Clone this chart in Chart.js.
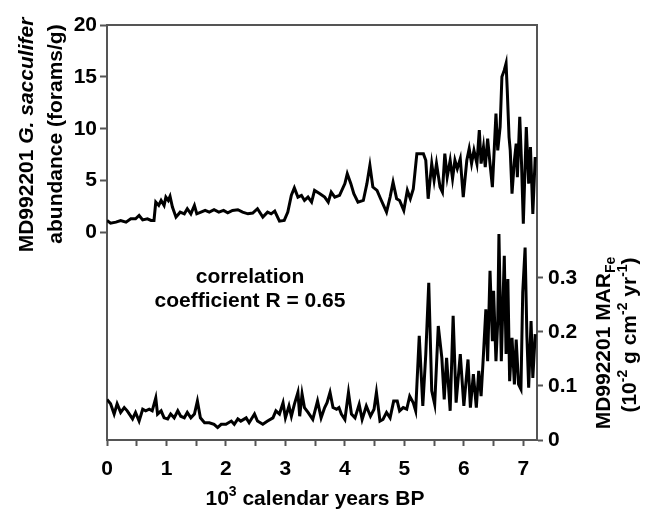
<!DOCTYPE html>
<html>
<head>
<meta charset="utf-8">
<script src="https://cdn.jsdelivr.net/npm/chart.js@4.4.1/dist/chart.umd.min.js"></script>
<style>
  html, body { margin: 0; padding: 0; background: #fff; }
  canvas { display: block; }
</style>
</head>
<body>
<canvas id="chart" width="649" height="511"></canvas>
<script>
// G. sacculifer abundance (forams/g), ka BP
const sacYears = [0.00, 0.06, 0.15, 0.23, 0.32, 0.40, 0.48, 0.54, 0.60, 0.68, 0.74, 0.79, 0.82, 0.87, 0.91, 0.96, 0.99, 1.03, 1.06, 1.10,
  1.16, 1.23, 1.30, 1.35, 1.41, 1.47, 1.51, 1.58, 1.65, 1.72, 1.80, 1.88, 1.96, 2.03, 2.11, 2.20, 2.28, 2.37, 2.45, 2.53,
  2.62, 2.70, 2.76, 2.82, 2.90, 2.98, 3.04, 3.10, 3.15, 3.21, 3.27, 3.32, 3.38, 3.44, 3.49, 3.58, 3.66, 3.72, 3.77, 3.83,
  3.91, 4.00, 4.04, 4.10, 4.15, 4.22, 4.31, 4.37, 4.42, 4.47, 4.54, 4.60, 4.65, 4.70, 4.76, 4.81, 4.87, 4.92, 4.99, 5.05,
  5.10, 5.15, 5.21, 5.26, 5.32, 5.36, 5.40, 5.46, 5.50, 5.54, 5.60, 5.64, 5.68, 5.72, 5.77, 5.81, 5.85, 5.89, 5.94, 5.99,
  6.05, 6.09, 6.13, 6.17, 6.22, 6.26, 6.29, 6.33, 6.36, 6.40, 6.44, 6.48, 6.51, 6.54, 6.57, 6.61, 6.64, 6.68, 6.71, 6.73,
  6.76, 6.78, 6.81, 6.85, 6.88, 6.90, 6.94, 6.97, 7.00, 7.05, 7.09, 7.12, 7.16, 7.20];
const sacValues = [1.16, 0.90, 1.00, 1.16, 1.00, 1.32, 1.32, 1.64, 1.22, 1.32, 1.16, 1.16, 2.93, 2.61, 3.09, 2.61, 3.41, 3.09, 3.48, 2.45,
  1.48, 1.96, 1.80, 2.29, 1.80, 2.61, 1.80, 1.96, 2.13, 1.96, 2.19, 1.96, 2.13, 1.90, 2.13, 2.19, 1.96, 1.80, 1.87, 2.29,
  1.48, 1.96, 1.80, 2.06, 1.09, 1.16, 1.96, 3.60, 4.30, 3.41, 3.58, 3.09, 3.41, 2.93, 4.06, 3.74, 3.41, 2.93, 3.89, 3.41,
  3.58, 4.71, 5.67, 4.71, 3.74, 2.93, 3.09, 4.71, 6.47, 4.38, 4.06, 3.25, 2.61, 1.96, 3.41, 4.86, 3.25, 3.09, 2.13, 4.06,
  3.25, 4.20, 7.60, 7.60, 7.60, 6.96, 3.25, 6.64, 5.02, 6.64, 4.38, 3.89, 7.60, 5.34, 6.96, 5.19, 6.96, 6.15, 7.12, 3.41,
  6.96, 8.08, 6.64, 7.92, 6.64, 9.86, 6.64, 8.24, 6.31, 9.05, 6.64, 4.38, 7.92, 11.47, 7.92, 10.17, 15.0, 15.65, 16.3, 13.7,
  9.20, 7.92, 3.74, 6.96, 8.57, 5.34, 11.14, 6.64, 0.84, 10.17, 4.71, 8.24, 1.80, 7.28];

// MAR Fe (10^-2 g cm^-2 yr^-1), ka BP
const marYears = [0.00, 0.06, 0.12, 0.17, 0.23, 0.29, 0.34, 0.43, 0.48, 0.54, 0.60, 0.65, 0.71, 0.76, 0.82, 0.85, 0.91, 0.96, 1.02, 1.07,
  1.13, 1.19, 1.24, 1.30, 1.35, 1.41, 1.47, 1.52, 1.57, 1.64, 1.72, 1.80, 1.86, 1.92, 2.00, 2.09, 2.14, 2.20, 2.25, 2.34,
  2.39, 2.48, 2.53, 2.62, 2.70, 2.79, 2.84, 2.90, 2.96, 3.00, 3.06, 3.10, 3.15, 3.21, 3.24, 3.28, 3.32, 3.38, 3.46, 3.54,
  3.60, 3.66, 3.70, 3.75, 3.80, 3.86, 3.90, 3.94, 4.00, 4.06, 4.11, 4.17, 4.24, 4.29, 4.36, 4.43, 4.49, 4.53, 4.59, 4.64,
  4.70, 4.76, 4.82, 4.88, 4.92, 4.98, 5.04, 5.09, 5.15, 5.19, 5.25, 5.31, 5.36, 5.41, 5.46, 5.51, 5.57, 5.63, 5.67, 5.71,
  5.77, 5.82, 5.87, 5.94, 6.00, 6.07, 6.11, 6.16, 6.21, 6.25, 6.29, 6.33, 6.37, 6.40, 6.44, 6.48, 6.50, 6.54, 6.57, 6.59,
  6.63, 6.68, 6.71, 6.74, 6.77, 6.81, 6.85, 6.88, 6.92, 6.96, 6.99, 7.03, 7.06, 7.09, 7.13, 7.16, 7.20];
const marValues = [0.075, 0.067, 0.048, 0.067, 0.051, 0.060, 0.054, 0.039, 0.051, 0.035, 0.057, 0.054, 0.057, 0.054, 0.078, 0.048, 0.054, 0.041, 0.039, 0.048,
  0.041, 0.054, 0.044, 0.041, 0.051, 0.041, 0.048, 0.072, 0.041, 0.032, 0.032, 0.029, 0.023, 0.029, 0.029, 0.035, 0.029, 0.039, 0.035, 0.041,
  0.032, 0.048, 0.035, 0.029, 0.035, 0.041, 0.054, 0.048, 0.069, 0.041, 0.063, 0.044, 0.066, 0.088, 0.044, 0.085, 0.060, 0.051, 0.038, 0.072,
  0.041, 0.060, 0.069, 0.088, 0.060, 0.057, 0.060, 0.048, 0.038, 0.088, 0.048, 0.041, 0.066, 0.038, 0.063, 0.044, 0.057, 0.088, 0.035, 0.038,
  0.051, 0.041, 0.072, 0.072, 0.054, 0.060, 0.057, 0.081, 0.069, 0.054, 0.193, 0.063, 0.159, 0.291, 0.091, 0.066, 0.211, 0.152, 0.075, 0.152,
  0.054, 0.230, 0.069, 0.159, 0.063, 0.149, 0.060, 0.122, 0.060, 0.128, 0.081, 0.159, 0.242, 0.146, 0.313, 0.183, 0.276, 0.146, 0.220, 0.381,
  0.146, 0.341, 0.159, 0.298, 0.109, 0.189, 0.103, 0.186, 0.103, 0.094, 0.273, 0.356, 0.193, 0.097, 0.220, 0.115, 0.196];

const xTicks = [0, 0.5, 1, 1.5, 2, 2.5, 3, 3.5, 4, 4.5, 5, 5.5, 6, 6.5, 7];
const sacTicks = [0, 5, 10, 15, 20];
const marTicks = [0, 0.1, 0.2, 0.3];

const FONT = '"Liberation Sans", Arial, Helvetica, sans-serif';
const AXIS = '#555';

const toPoints = (xs, ys) => xs.map((x, i) => ({ x: x, y: ys[i] }));

// draws a row of text pieces (mixed fonts / sub / superscript), centred on (cx, cy)
function drawRuns(ctx, runs, cx, cy, angle) {
  ctx.save();
  ctx.translate(cx, cy);
  ctx.rotate(angle);
  ctx.textAlign = 'left';
  ctx.textBaseline = 'alphabetic';
  ctx.fillStyle = '#000';
  let total = 0;
  runs.forEach(r => { ctx.font = r.font; total += ctx.measureText(r.text).width; });
  let x = -total / 2;
  runs.forEach(r => {
    ctx.font = r.font;
    ctx.fillText(r.text, x, r.dy || 0);
    x += ctx.measureText(r.text).width;
  });
  ctx.restore();
}

const big = 'bold 21px ' + FONT;
const bigIt = 'italic bold 21px ' + FONT;
const small = 'bold 14px ' + FONT;

const labelsPlugin = {
  id: 'labels',
  afterDraw(chart) {
    const ctx = chart.ctx;
    const a = chart.chartArea;
    // top frame line
    ctx.save();
    ctx.strokeStyle = AXIS;
    ctx.lineWidth = 2;
    ctx.beginPath();
    ctx.moveTo(a.left - 1, a.top);
    ctx.lineTo(a.right + 1, a.top);
    ctx.stroke();
    ctx.restore();

    const up = -Math.PI / 2;
    // left axis title
    drawRuns(ctx, [{ text: 'MD992201 ', font: big }, { text: 'G. sacculifer', font: bigIt }], 33, 135, up);
    drawRuns(ctx, [{ text: 'abundance (forams/g)', font: big }], 62, 134, up);
    // right axis title
    drawRuns(ctx, [{ text: 'MD992201 MAR', font: big }, { text: 'Fe', font: small, dy: 5 }], 610, 343, up);
    drawRuns(ctx, [
      { text: '(10', font: big }, { text: '-2', font: small, dy: -9 },
      { text: ' g cm', font: big }, { text: '-2', font: small, dy: -9 },
      { text: ' yr', font: big }, { text: '-1', font: small, dy: -9 },
      { text: ')', font: big }
    ], 636, 335, up);
    // x axis title
    drawRuns(ctx, [{ text: '10', font: big }, { text: '3', font: small, dy: -9 }, { text: ' calendar years BP', font: big }], 315, 505, 0);
    // annotation
    drawRuns(ctx, [{ text: 'correlation', font: big }], 250, 283, 0);
    drawRuns(ctx, [{ text: 'coefficient R = 0.65', font: big }], 250, 307, 0);
  }
};

Chart.defaults.font.family = FONT;
Chart.defaults.color = '#000';

new Chart(document.getElementById('chart'), {
  type: 'line',
  data: {
    datasets: [
      {
        label: 'G. sacculifer',
        data: toPoints(sacYears, sacValues),
        yAxisID: 'y',
        borderColor: '#000',
        borderWidth: 3,
        pointRadius: 0,
        tension: 0
      },
      {
        label: 'MAR Fe',
        data: toPoints(marYears, marValues),
        yAxisID: 'y1',
        borderColor: '#000',
        borderWidth: 3,
        pointRadius: 0,
        tension: 0
      }
    ]
  },
  options: {
    responsive: false,
    animation: false,
    layout: { padding: { top: 25, left: 0, right: 0, bottom: 0 } },
    plugins: { legend: { display: false }, tooltip: { enabled: false } },
    scales: {
      x: {
        type: 'linear',
        min: 0,
        max: 7.23,
        afterBuildTicks: s => { s.ticks = xTicks.map(v => ({ value: v })); },
        afterFit: s => { s.height = 71; },
        ticks: {
          autoSkip: false,
          maxRotation: 0,
          padding: 11,
          font: { size: 21, weight: 'bold' },
          callback: v => (Number.isInteger(v) ? String(v) : '')
        },
        grid: { drawOnChartArea: false, tickLength: 6, tickWidth: 2, color: AXIS },
        border: { color: AXIS, width: 2 }
      },
      y: {
        position: 'left',
        min: -20,
        max: 20,
        afterBuildTicks: s => { s.ticks = sacTicks.map(v => ({ value: v })); },
        afterFit: s => { s.width = 107; },
        ticks: { padding: 3, font: { size: 21, weight: 'bold' } },
        grid: { drawOnChartArea: false, tickLength: 7, tickWidth: 2, color: AXIS },
        border: { color: AXIS, width: 2 }
      },
      y1: {
        position: 'right',
        min: 0,
        max: 0.768,
        afterBuildTicks: s => { s.ticks = marTicks.map(v => ({ value: v })); },
        afterFit: s => { s.width = 112; },
        ticks: {
          padding: 5,
          font: { size: 21, weight: 'bold' },
          callback: v => (v === 0 ? '0' : v.toFixed(1))
        },
        grid: { drawOnChartArea: false, tickLength: 6, tickWidth: 2, color: AXIS },
        border: { color: AXIS, width: 2 }
      }
    }
  },
  plugins: [labelsPlugin]
});
</script>
</body>
</html>
